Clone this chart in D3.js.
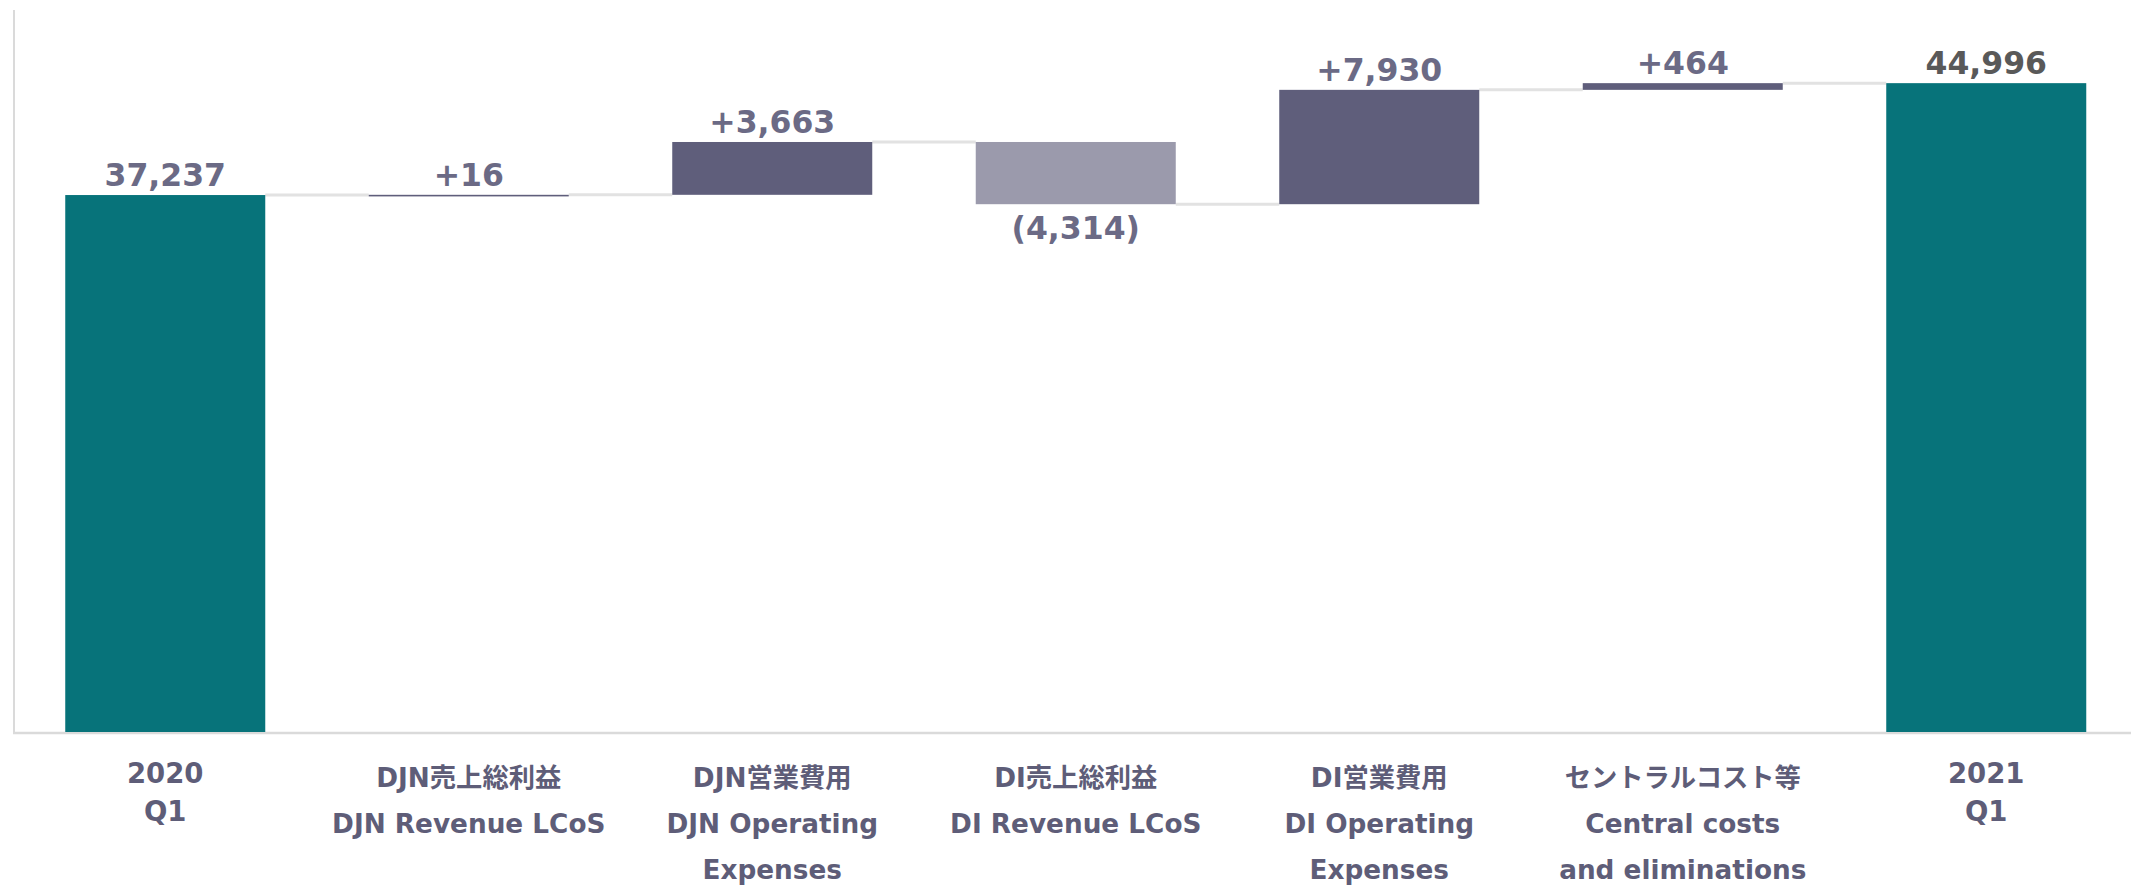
<!DOCTYPE html>
<html lang="ja">
  <head>
    <meta charset="UTF-8" />
    <title>waterfall</title>
    <style>
      body { margin: 0; background: #fff; }
      text { font-family: 'DejaVu Sans', 'Noto Sans CJK JP', sans-serif; font-weight: bold; }
    </style>
  </head>
  <body>
    <svg id="svg" width="2131" height="888"></svg>
    <script src="https://cdn.jsdelivr.net/npm/d3@7/dist/d3.min.js"></script>
    <script>
      // data
      const categories = ['2020 Q1', 'DJN売上総利益', 'DJN営業費用', 'DI売上総利益', 'DI営業費用', 'セントラルコスト等', '2021 Q1']
      const labelLines = [
        ['2020', 'Q1'],
        ['DJN売上総利益', 'DJN Revenue LCoS'],
        ['DJN営業費用', 'DJN Operating', 'Expenses'],
        ['DI売上総利益', 'DI Revenue LCoS'],
        ['DI営業費用', 'DI Operating', 'Expenses'],
        ['セントラルコスト等', 'Central costs', 'and eliminations'],
        ['2021', 'Q1']
      ]
      const values = [37237, 16, 3663, -4314, 7930, 464, 44996]
      const kinds = ['total', 'delta', 'delta', 'delta', 'delta', 'delta', 'total']

      const svg = d3.select('#svg')
      const baseY = 732

      // running totals
      let run = 0
      const rows = categories.map((c, i) => {
        let start, end
        if (kinds[i] === 'total') {
          start = 0
          end = values[i]
        } else {
          start = run
          end = run + values[i]
        }
        run = end
        return { cat: c, i: i, value: values[i], kind: kinds[i], start: start, end: end, lines: labelLines[i] }
      })

      const x = d3.scaleBand().domain(categories).range([13.5, 13.5 + 7 * 303.5]).paddingInner(0.341).paddingOuter(0.1705)
      const y = d3.scaleLinear().domain([0, 50000]).range([baseY, 11])

      const colorOf = (d) => {
        if (d.kind === 'total') return '#07737a'
        return d.value < 0 ? '#9b9aac' : '#5f5e7b'
      }

      // axis lines
      svg.append('line')
        .attr('x1', 14).attr('x2', 14).attr('y1', 10).attr('y2', baseY + 1)
        .attr('stroke', '#dadada').attr('stroke-width', 2)
      svg.append('line')
        .attr('x1', 13).attr('x2', 2131).attr('y1', baseY + 1).attr('y2', baseY + 1)
        .attr('stroke', '#dadada').attr('stroke-width', 2.5)

      // connectors
      svg.selectAll('.conn')
        .data(rows.slice(0, -1))
        .enter()
        .append('line')
        .attr('class', 'conn')
        .attr('x1', (d) => x(d.cat) + x.bandwidth())
        .attr('x2', (d) => x(categories[d.i + 1]))
        .attr('y1', (d) => y(d.end))
        .attr('y2', (d) => y(d.end))
        .attr('stroke', '#e2e2e2')
        .attr('stroke-width', 3)

      // bars
      svg.selectAll('.bar')
        .data(rows)
        .enter()
        .append('rect')
        .attr('class', 'bar')
        .attr('x', (d) => x(d.cat))
        .attr('width', x.bandwidth())
        .attr('y', (d) => y(Math.max(d.start, d.end)))
        .attr('height', (d) => Math.max(1.6, Math.abs(y(d.start) - y(d.end))))
        .attr('fill', colorOf)

      // value labels
      const fmt = d3.format(',')
      svg.selectAll('.val')
        .data(rows)
        .enter()
        .append('text')
        .attr('class', 'val')
        .attr('text-anchor', 'middle')
        .attr('font-size', 31.5)
        .attr('x', (d) => x(d.cat) + x.bandwidth() / 2)
        .attr('y', (d) => (d.value < 0 ? y(d.end) + 35 : y(Math.max(d.start, d.end)) - 9))
        .attr('fill', (d) => (d.i === rows.length - 1 ? '#595959' : '#6b6a85'))
        .text((d) => {
          if (d.kind === 'total') return fmt(d.value)
          return d.value < 0 ? '(' + fmt(-d.value) + ')' : '+' + fmt(d.value)
        })

      // category labels
      const cats = svg.selectAll('.cat')
        .data(rows)
        .enter()
        .append('text')
        .attr('class', 'cat')
        .attr('text-anchor', 'middle')
        .attr('fill', '#5e5d78')
        .attr('font-size', (d) => (d.kind === 'total' ? 27.5 : 26.3))

      cats.selectAll('tspan')
        .data((d) => d.lines.map((t, j) => ({ t: t, j: j, d: d })))
        .enter()
        .append('tspan')
        .attr('x', (e) => x(e.d.cat) + x.bandwidth() / 2)
        .attr('y', (e) => (e.d.kind === 'total' ? 783 + e.j * 38 : 787 + e.j * 46))
        .text((e) => e.t)
    </script>
  </body>
</html>
